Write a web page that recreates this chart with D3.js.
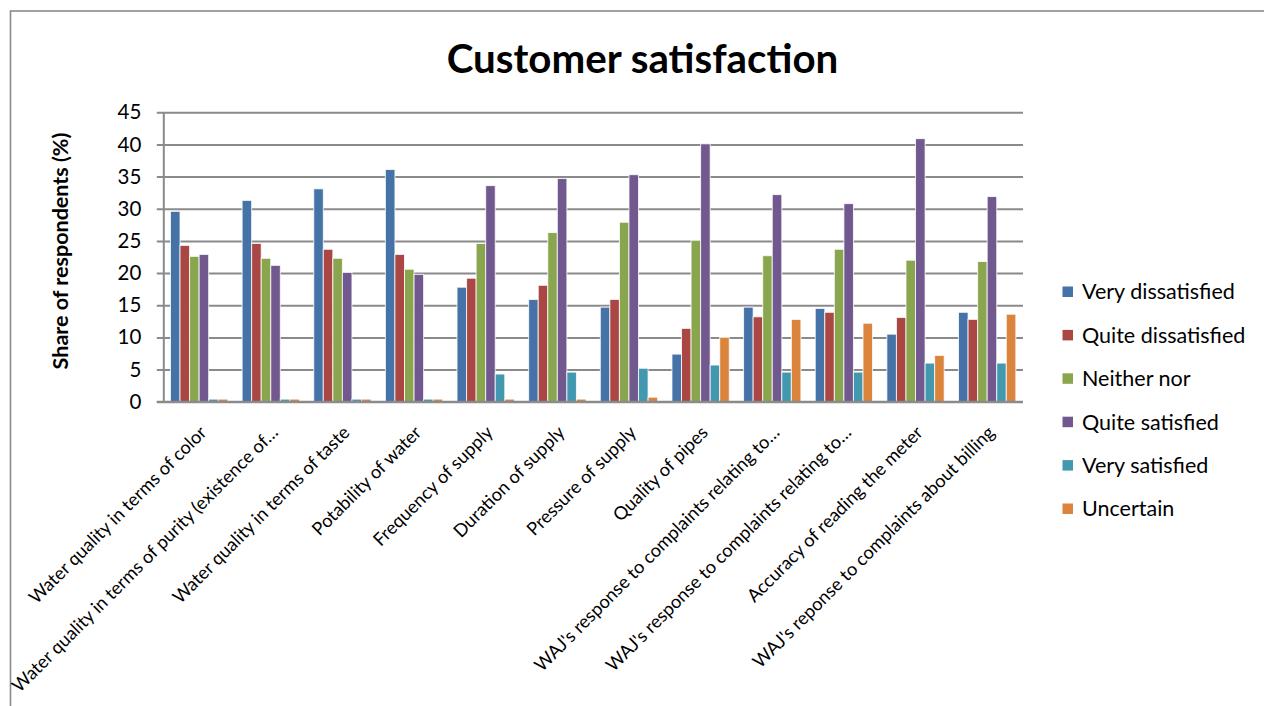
<!DOCTYPE html>
<html>
<head>
<meta charset="utf-8">
<script src="https://cdn.jsdelivr.net/npm/d3@7/dist/d3.min.js"></script>
<style>
  html, body { margin: 0; padding: 0; background: #fff; }
  svg { display: block; font-family: Lato, "Open Sans", sans-serif; }
</style>
</head>
<body>
<svg id="chart" width="1264" height="706"></svg>
<script>
// Survey categories (x axis)
const categories = [
  "Water quality in terms of color",
  "Water quality in terms of purity (existence of…",
  "Water quality in terms of taste",
  "Potability of water",
  "Frequency of supply",
  "Duration of supply",
  "Pressure of supply",
  "Quality of pipes",
  "WAJ's response to complaints relating to…",
  "WAJ's response to complaints relating to…",
  "Accuracy of reading the meter",
  "WAJ's reponse to complaints about billing"
];

// Answer options (legend order)
const seriesNames = [
  "Very dissatisfied",
  "Quite dissatisfied",
  "Neither nor",
  "Quite satisfied",
  "Very satisfied",
  "Uncertain"
];

// Share of respondents (%) per answer option, one value per category
const veryDissatisfied  = [29.6, 31.3, 33.1, 36.1, 17.8, 15.9, 14.7, 7.4, 14.7, 14.5, 10.5, 13.9];
const quiteDissatisfied = [24.3, 24.6, 23.7, 22.9, 19.2, 18.1, 15.9, 11.4, 13.2, 13.9, 13.1, 12.8];
const neitherNor        = [22.6, 22.3, 22.3, 20.6, 24.6, 26.3, 27.9, 25.1, 22.7, 23.7, 22.0, 21.8];
const quiteSatisfied    = [22.9, 21.2, 20.1, 19.8, 33.6, 34.7, 35.3, 40.1, 32.2, 30.8, 40.9, 31.9];
const verySatisfied     = [0.4, 0.4, 0.4, 0.4, 4.3, 4.6, 5.2, 5.7, 4.6, 4.6, 6.0, 6.0];
const uncertain         = [0.4, 0.4, 0.4, 0.4, 0.4, 0.4, 0.7, 10.0, 12.8, 12.2, 7.2, 13.6];

// Y axis tick values
const yTicks = [0, 5, 10, 15, 20, 25, 30, 35, 40, 45];

const seriesValues = [veryDissatisfied, quiteDissatisfied, neitherNor, quiteSatisfied, verySatisfied, uncertain];
const colors = ["#4572A7", "#AA4643", "#89A54E", "#71588F", "#4198AF", "#DB843D"];

const svg = d3.select("#chart");

// Outer chart frame
svg.append("rect")
  .attr("x", 10.5).attr("y", 11)
  .attr("width", 1400).attr("height", 900)
  .attr("fill", "none").attr("stroke", "#8a8a8a").attr("stroke-width", 1.6);

const plot = { left: 163.3, right: 1023, top: 112.3, bottom: 401.7 };

const y = d3.scaleLinear().domain([0, 45]).range([plot.bottom, plot.top]);
const x0 = d3.scaleBand()
  .domain(d3.range(categories.length))
  .range([plot.left, plot.right])
  .paddingInner(0.2).paddingOuter(0.1);
const x1 = d3.scaleBand()
  .domain(d3.range(seriesNames.length))
  .range([0, x0.bandwidth()]);

// Y axis with gridlines
const yAxis = svg.append("g")
  .attr("transform", `translate(${plot.left},0)`)
  .call(d3.axisLeft(y).tickValues(yTicks)
    .tickSizeInner(-(plot.right - plot.left)).tickSizeOuter(0).tickPadding(22));
yAxis.select(".domain")
  .attr("stroke", "#8a8a8a").attr("stroke-width", 2);
yAxis.selectAll(".tick line")
  .attr("x1", -6.5)
  .attr("stroke", "#8a8a8a").attr("stroke-width", 2);
yAxis.selectAll(".tick text")
  .attr("font-size", 20.5).attr("fill", "#000")
  .attr("font-family", "Lato, sans-serif");

// Bars
const groups = svg.append("g").selectAll("g")
  .data(categories.map((c, i) => i))
  .join("g")
  .attr("transform", i => `translate(${x0(i)},0)`);

groups.selectAll("rect")
  .data(i => seriesValues.map((vals, s) => ({ s, v: vals[i] })))
  .join("rect")
  .attr("x", d => x1(d.s))
  .attr("y", d => y(d.v))
  .attr("width", x1.bandwidth())
  .attr("height", d => y(0) - y(d.v))
  .attr("fill", d => colors[d.s])
  .attr("stroke", "#ffffff").attr("stroke-opacity", 0.8).attr("stroke-width", 1);

// Baseline redrawn over bar bottoms
svg.append("line")
  .attr("x1", plot.left - 6.5).attr("x2", plot.right)
  .attr("y1", y(0)).attr("y2", y(0))
  .attr("stroke", "#8a8a8a").attr("stroke-width", 2);

// Category labels, rotated
svg.append("g").selectAll("text")
  .data(categories)
  .join("text")
  .attr("transform", (d, i) => `translate(${x0(i) + x0.bandwidth() / 2 + 8.5},${y(0) + 32}) rotate(-45)`)
  .attr("text-anchor", "end")
  .attr("font-size", 18.2)
  .attr("fill", "#000")
  .text(d => d);

// Y axis title
svg.append("text")
  .attr("transform", `translate(67.5,${(plot.top + plot.bottom) / 2 - 6}) rotate(-90)`)
  .attr("text-anchor", "middle")
  .attr("font-size", 21.5).attr("font-weight", "bold")
  .attr("fill", "#000")
  .text("Share of respondents (%)");

// Chart title
svg.append("text")
  .attr("x", 642.5).attr("y", 73)
  .attr("text-anchor", "middle")
  .attr("font-size", 40.3).attr("font-weight", "bold")
  .attr("fill", "#000")
  .text("Customer satisfaction");

// Legend
const legend = svg.append("g").selectAll("g")
  .data(seriesNames)
  .join("g")
  .attr("transform", (d, i) => `translate(1062.5,${291.7 + i * 43.4})`);
legend.append("rect")
  .attr("x", 0).attr("y", -5.2)
  .attr("width", 10.5).attr("height", 10.5)
  .attr("fill", (d, i) => colors[i]);
legend.append("text")
  .attr("x", 19.5).attr("y", 0).attr("dy", "0.36em")
  .attr("font-size", 21.5)
  .attr("fill", "#000")
  .text(d => d);
</script>
</body>
</html>
